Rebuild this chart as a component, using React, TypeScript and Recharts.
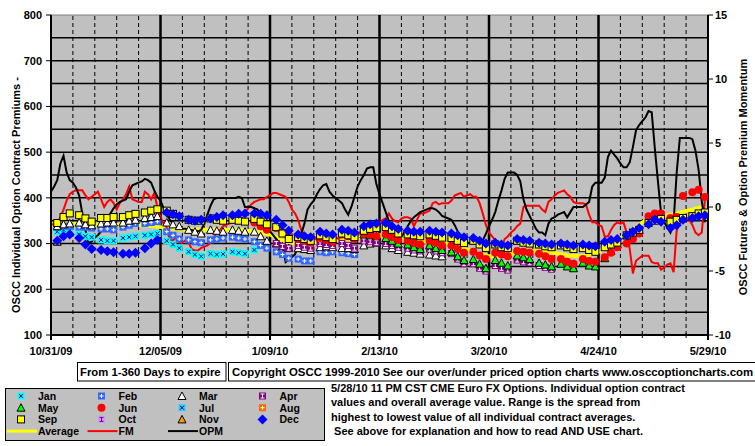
import React from "react";
import { ComposedChart, Scatter, Line, XAxis, YAxis, ReferenceLine, ReferenceArea } from "recharts";

const FONT = "'Liberation Sans', Arial, Helvetica, sans-serif";

// x axis = days since 10/31/09; labels every 35 days, dashed line every week
const dateLabels = ["10/31/09", "12/05/09", "1/09/10", "2/13/10", "3/20/10", "4/24/10", "5/29/10"];
const weekTicks = Array.from({ length: 31 }, (_, i) => i * 7);
const premiumTicks = [100, 200, 300, 400, 500, 600, 700, 800];
const premiumGrid = [150, 200, 250, 300, 350, 400, 450, 500, 550, 600, 650, 700, 750];
const momentumTicks = [-10, -5, 0, 5, 10, 15];

// contract premiums, one row per week (Mon / Wed / Fri readings)
const nov09Weeks = [[304]];
const dec09Weeks = [[306, 316, 320], [312, 298, 288], [286, 283, 281], [278, 278, 280], [290, 300, 308]];
const janWeeks = [
  [326, 330, 330], [320, 316, 314], [308, 306, 306], [312, 314, 316], [318, 320, 322],
  [306, 298, 290], [282, 276, 272], [278, 276, 277], [282, 280, 278], [286],
];
const febWeeks = [
  [336, 338, 338], [336, 336, 334], [332, 332, 330], [336, 340, 344], [344, 346, 348],
  [326, 318, 310], [308, 304, 302], [308, 310, 312], [314, 312, 310], [304, 296, 290],
  [282, 276, 268], [266, 262, 262], [282, 280, 282], [280, 278, 276],
];
const marWeeks = [
  [338, 342, 344], [346, 342, 340], [344, 346, 346], [346, 350, 352], [356, 358, 360],
  [346, 342, 338], [330, 326, 322], [330, 328, 326], [330, 328, 326], [326, 316, 306],
  [300, 294, 290], [290, 288, 286], [292, 294, 292], [290, 290, 288], [296, 300, 302],
  [296, 290, 286], [282, 280, 278], [276, 274, 272],
];
const aprWeeks = [
  [300, 294, 290], [296, 292, 290], [300, 298, 296], [300, 296, 290], [306, 304, 302],
  [300, 296, 292], [290, 286, 284], [288, 284, 280], [278, 266, 256], [256, 246, 240],
  [252, 246, 242], [264, 260, 258], [252, 248, 244],
];
const mayWeeks = [
  [320, 318, 316], [312, 306, 300], [298, 292, 288], [296, 290, 286], [282, 272, 264],
  [266, 256, 246], [264, 258, 252], [274, 270, 266], [258, 254, 250], [256, 250, 246],
  [258, 252, 250], [268, 284, 298], [318, 326, 330],
];
const junWeeks = [
  [346, 338, 330], [334, 324, 316], [310, 306, 302], [312, 308, 304], [320, 316, 310],
  [322, 320, 316], [320, 314, 308], [306, 302, 298], [306, 302, 296], [296, 288, 280],
  [282, 274, 266], [280, 276, 272], [284, 282, 280], [278, 272, 266], [266, 260, 256],
  [266, 262, 260], [270, 280, 292], [300, 310, 322], [360, 366, 366], [356, 358, 404],
  [412, 418, 402],
];
const sepWeeks = [
  [345, 358, 366], [362, 355, 348], [356, 356, 358], [358, 362, 365], [368, 372, 375],
  [372, 365, 358], [352, 350, 350], [355, 352, 350], [352, 350, 348], [354, 348, 342],
  [336, 322, 310], [314, 310, 306], [318, 314, 310], [322, 318, 314], [328, 332, 334],
  [336, 330, 322], [320, 318, 316], [320, 317, 313], [312, 306, 301], [306, 298, 290],
  [298, 292, 290], [306, 302, 300], [298, 294, 292], [296, 292, 288], [290, 286, 282],
  [292, 298, 302], [318, 324, 330], [345, 350, 354], [348, 352, 356], [360, 366, 368],
];
const dec10Weeks = [
  [368, 364, 360], [352, 350, 352], [355, 358, 362], [362, 365, 366], [366, 365, 362],
  [352, 340, 328], [320, 316, 314], [326, 322, 320], [330, 328, 324], [338, 342, 344],
  [345, 338, 332], [328, 326, 326], [328, 326, 324], [322, 318, 314], [312, 306, 300],
  [302, 298, 296], [310, 308, 306], [302, 300, 298], [300, 298, 296], [298, 296, 294],
  [304, 308, 310], [318, 326, 334], [342, 352, 348], [334, 340, 352], [356, 360, 362],
];

const avgDays = [0, 5, 10, 15, 20, 25, 30, 35, 40, 45, 50, 55, 60, 65, 70, 75, 80, 85, 90, 95, 100, 105,
  110, 115, 120, 125, 130, 135, 140, 145, 150, 155, 160, 165, 170, 175, 180, 185, 190, 195, 200, 205, 209];
const avgValues = [342, 344, 342, 340, 340, 341, 340, 336, 332, 330, 330, 330, 330, 326, 320, 304, 297, 304,
  307, 309, 312, 318, 314, 306, 304, 302, 296, 282, 272, 272, 284, 284, 281, 274, 272, 282, 302, 326, 350,
  358, 366, 374, 382];

// daily futures momentum / option premium momentum (right axis)
const fmValues = [
  -1.3, -1.4, -1.4, -0.8, -0.2, 0.5, 1.0, 1.2, 1.3, 1.3,
  1.3, 0.9, 0.6, 0.8, 1.0, 1.2, 0.6, 0.0, 0.4, 0.6,
  0.3, -0.2, 0.3, 0.6, 1.0, 1.6, 0.6, 0.5, 0.4, 0.4,
  1.2, 1.0, 0.6, 1.1, 0.0, -0.8, -1.3, -1.6, -2.6, -2.6,
  -2.4, -2.8, -2.8, -2.6, -2.8, -3.3, -3.4, -3.4, -3.2, -3.1,
  -3.0, -2.8, -2.4, -2.0, -1.8, -1.5, -1.4, -1.3, -1.2, -1.0,
  -0.8, -0.6, -0.4, -0.1, 0.2, 0.4, 0.5, 0.6, 0.6, 0.8,
  0.9, 1.1, 1.1, 1.0, 0.9, 0.8, 0.4, -0.2, -0.5, -1.0,
  -1.8, -2.2, -2.2, -2.2, -2.3, -2.6, -2.9, -2.5, -2.4, -2.6,
  -2.8, -2.4, -2.5, -2.2, -2.0, -2.3, -2.6, -2.4, -2.2, -1.9,
  -2.1, -1.8, -2.0, -1.8, -1.6, -1.3, -1.0, -0.9, -0.5, -0.9,
  -1.1, -1.2, -0.9, -0.8, -0.8, -0.9, -1.5, -1.0, -0.5, -0.5,
  -0.4, -0.3, 0.3, 0.4, 0.2, 0.3, 0.3, 0.3, 0.5, 0.9,
  1.0, 1.1, 0.8, 0.9, 1.0, 0.8, 0.8, 0.3, -0.5, -1.4,
  -2.0, -2.3, -2.6, -2.8, -3.2, -2.5, -2.3, -2.0, -1.8, -1.5,
  -1.3, 0.0, 0.1, 0.1, 0.1, 0.1, 0.1, -0.2, -0.4, 0.4,
  0.6, 0.9, 1.1, 1.2, 1.3, 1.0, 0.8, 0.4, 0.3, 0.3,
  0.3, 0.2, -0.6, -1.2, -1.2, -1.4, -1.5, -2.3, -2.3, -1.8,
  -1.4, -1.2, -1.3, -1.2, -2.0, -3.3, -5.2, -4.2, -4.0, -3.8,
  -3.8, -3.8, -4.3, -4.4, -4.4, -4.9, -4.7, -4.5, -4.4, -5.1,
  -1.8, -1.2, -0.9, -0.8, -1.0, -1.4, -2.0, -2.2, -2.0, 0.5,
];
const opmValues = [
  1.2, 1.6, 2.1, 3.4, 4.0, 2.7, 2.1, 1.9, 1.5, 0.9,
  -0.5, -1.8, -2.8, -2.7, -2.4, -2.2, -1.9, -1.5, -1.0, -0.5,
  -0.1, 0.2, 0.4, 0.5, 0.6, 1.2, 1.7, 1.8, 1.9, 2.0,
  2.2, 2.1, 1.9, 1.3, 0.8, 0.5, -0.1, -0.6, -1.0, -1.3,
  -1.6, -1.7, -1.7, -1.7, -1.8, -1.8, -1.9, -1.9, -1.8, -1.3,
  -0.6, 0.1, 0.6, 0.7, 0.7, 0.7, 0.7, 0.7, 0.7, 0.7,
  0.8, 0.7, 0.0, 0.0, 0.0, -0.1, -0.2, -0.7, -1.1, -1.5,
  -1.9, -2.2, -2.5, -2.8, -3.0, -4.3, -4.1, -3.9, -3.7, -3.0,
  -2.1, -1.3, -0.2, 0.2, 0.5, 1.0, 1.4, 1.7, 1.8, 1.2,
  0.9, 0.7, 0.5, 0.3, -0.2, -0.6, 0.0, 0.8, 1.6, 2.1,
  2.5, 3.0, 3.1, 3.1, 1.8, 1.0, 0.3, -0.4, -1.1, -1.6,
  -2.0, -2.4, -2.3, -2.0, -1.5, -1.1, -0.8, -0.6, -0.4, -0.3,
  -0.2, -0.1, -0.1, -0.2, -0.4, -0.7, -0.8, -0.9, -1.0, -1.4,
  -1.9, -2.5, -2.7, -2.8, -2.8, -2.8, -2.8, -2.8, -2.6, -2.1,
  -1.5, -1.0, -0.4, 0.5, 1.3, 2.2, 2.7, 2.7, 2.7, 2.5,
  2.0, 0.6, -0.2, -0.7, -1.2, -1.7, -2.0, -2.0, -2.2, -1.3,
  -0.9, -0.8, -0.6, -0.5, -0.4, -0.8, -0.4, 0.0, 0.0, 0.0,
  0.0, 0.2, 0.4, 1.6, 1.9, 1.9, 1.9, 2.3, 3.9, 4.4,
  4.1, 3.8, 3.4, 3.1, 3.1, 3.5, 4.7, 6.0, 6.4, 6.7,
  7.0, 7.5, 7.4, 4.6, 2.0, -0.5, -1.2, -1.6, -2.0, -1.2,
  2.7, 5.4, 5.4, 5.4, 5.4, 5.3, 4.4, 2.9, 0.5, -1.2,
];

// Mon/Wed/Fri of each week -> day offset
const cluster = (firstWeek: number, weeks: number[][]) =>
  weeks.flatMap((vals, i) => vals.map((v, j) => ({ d: (firstWeek + i) * 7 + 2 + j * 2, v })));
const daily = (vals: number[]) => vals.map((v, d) => ({ d, v }));
const avgData = avgDays.map((d, i) => ({ d, v: avgValues[i] }));

type MP = { cx?: number; cy?: number };

const squareMark = (fill: string, glyph: string, ink: string, stroke = "none") => (p: MP) => {
  const cx = p.cx ?? 0;
  const cy = p.cy ?? 0;
  return (
    <g>
      <rect x={cx - 3.5} y={cy - 3.5} width={7} height={7} fill={fill} stroke={stroke} />
      {glyph === "+" && <path d={`M${cx - 2},${cy}H${cx + 2}M${cx},${cy - 2}V${cy + 2}`} stroke={ink} />}
      {glyph === "x" && <path d={`M${cx - 2},${cy - 2}L${cx + 2},${cy + 2}M${cx + 2},${cy - 2}L${cx - 2},${cy + 2}`} stroke={ink} />}
      {glyph === "i" && (
        <path d={`M${cx - 2},${cy - 2}H${cx + 2}M${cx - 2},${cy + 2}H${cx + 2}M${cx},${cy - 2}V${cy + 2}`} stroke={ink} />
      )}
    </g>
  );
};
const triangleMark = (fill: string) => (p: MP) => {
  const cx = p.cx ?? 0;
  const cy = p.cy ?? 0;
  return <polygon points={`${cx},${cy - 4} ${cx + 4},${cy + 3.5} ${cx - 4},${cy + 3.5}`} fill={fill} stroke="#000" />;
};
const circleMark = (fill: string) => (p: MP) => <circle cx={p.cx ?? 0} cy={p.cy ?? 0} r={4} fill={fill} />;
const diamondMark = (fill: string) => (p: MP) => {
  const cx = p.cx ?? 0;
  const cy = p.cy ?? 0;
  return <polygon points={`${cx},${cy - 5} ${cx + 5},${cy} ${cx},${cy + 5} ${cx - 5},${cy}`} fill={fill} />;
};

const janMark = squareMark("#00ffff", "x", "#000080");
const febMark = squareMark("#3366ff", "+", "#ffffff");
const marMark = triangleMark("#ffffff");
const aprMark = squareMark("#800080", "i", "#ffffff");
const mayMark = triangleMark("#00ff00");
const junMark = circleMark("#ff0000");
const julMark = squareMark("#33ccff", "x", "#000080");
const augMark = squareMark("#ff6600", "+", "#ffffff");
const sepMark = squareMark("#ffff00", "", "#000", "#000");
const octMark = squareMark("#cc99ff", "i", "#800080");
const novMark = triangleMark("#ff9900");
const decMark = diamondMark("#0000ff");

const legendMarks = [
  ["Jan", janMark], ["Feb", febMark], ["Mar", marMark], ["Apr", aprMark],
  ["May", mayMark], ["Jun", junMark], ["Jul", julMark], ["Aug", augMark],
  ["Sep", sepMark], ["Oct", octMark], ["Nov", novMark], ["Dec", decMark],
] as const;
const legendLines = [
  ["Average", "#ffff00", 3],
  ["FM", "#ff0000", 2],
  ["OPM", "#000000", 2],
] as const;

const notes = [
  "5/28/10 11 PM CST CME Euro FX Options. Individual option contract",
  "values and overall average value. Range is the spread from",
  "highest to lowest value of all individual contract averages.",
  " See above for explanation and how to read AND USE chart.",
];

const DateTick = (props: any) => {
  const { x, y, payload } = props;
  const d = payload.value as number;
  const major = d % 35 === 0;
  return (
    <g>
      <line x1={x} x2={x} y1={y - 2} y2={y + (major ? 5 : 3)} stroke="#000" strokeWidth={major ? 2 : 1} />
      {major && (
        <text x={x} y={y + 20} textAnchor="middle" fontFamily={FONT} fontWeight="bold" fontSize={11} fill="#000">
          {dateLabels[d / 35]}
        </text>
      )}
    </g>
  );
};

const axisTick = { fill: "#000", fontSize: 11, fontWeight: "bold", fontFamily: FONT };

export default function App() {
  const txt = { fontFamily: FONT, fontWeight: "bold" as const, fontSize: 11, fill: "#000" };
  const rowGap = 11.7;
  return (
    <div style={{ position: "absolute", left: 0, top: 0, width: 755, height: 446, background: "#fff" }}>
      <ComposedChart width={755} height={446} margin={{ top: 15, right: 7, bottom: 91, left: 6 }}>
        <XAxis
          dataKey="d"
          type="number"
          domain={[0, 210]}
          ticks={weekTicks}
          interval={0}
          height={20}
          tickSize={0}
          tickMargin={0}
          tickLine={false}
          tick={<DateTick />}
          axisLine={{ stroke: "#000", strokeWidth: 2 }}
          allowDataOverflow
        />
        <YAxis
          yAxisId="left"
          domain={[100, 800]}
          ticks={premiumTicks}
          width={45}
          tickSize={5}
          tickMargin={4}
          tick={axisTick}
          tickLine={{ stroke: "#000" }}
          axisLine={{ stroke: "#000", strokeWidth: 2 }}
          allowDataOverflow
        />
        <YAxis
          yAxisId="right"
          orientation="right"
          domain={[-10, 15]}
          ticks={momentumTicks}
          width={40}
          tickSize={5}
          tickMargin={2}
          tick={axisTick}
          tickLine={{ stroke: "#000" }}
          axisLine={{ stroke: "#000", strokeWidth: 2 }}
          allowDataOverflow
        />
        <ReferenceArea yAxisId="left" x1={0} x2={210} y1={100} y2={800} fill="#c0c0c0" fillOpacity={1} stroke="none" />
        <ReferenceLine yAxisId="left" y={800} stroke="#808080" strokeWidth={1} />
        {premiumGrid.map((v) => (
          <ReferenceLine key={"h" + v} yAxisId="left" y={v} stroke="#000" strokeWidth={1.5} />
        ))}
        {weekTicks.slice(1, -1).map((d) => (
          <ReferenceLine
            key={"v" + d}
            yAxisId="left"
            x={d}
            stroke="#000"
            strokeWidth={d % 35 === 0 ? 2.5 : 1}
            strokeDasharray={d % 35 === 0 ? undefined : "4 3"}
          />
        ))}

        <Scatter data={cluster(0, janWeeks)} dataKey="v" yAxisId="left" shape={janMark} isAnimationActive={false} />
        <Scatter data={cluster(0, febWeeks)} dataKey="v" yAxisId="left" shape={febMark} isAnimationActive={false} />
        <Scatter data={cluster(0, marWeeks)} dataKey="v" yAxisId="left" shape={marMark} isAnimationActive={false} />
        <Scatter data={cluster(10, aprWeeks)} dataKey="v" yAxisId="left" shape={aprMark} isAnimationActive={false} />
        <Scatter data={cluster(14, mayWeeks)} dataKey="v" yAxisId="left" shape={mayMark} isAnimationActive={false} />
        <Scatter data={cluster(9, junWeeks)} dataKey="v" yAxisId="left" shape={junMark} isAnimationActive={false} />
        <Scatter data={cluster(0, sepWeeks)} dataKey="v" yAxisId="left" shape={sepMark} isAnimationActive={false} />
        <Scatter data={cluster(0, nov09Weeks)} dataKey="v" yAxisId="left" shape={novMark} isAnimationActive={false} />
        <Scatter data={cluster(0, dec09Weeks)} dataKey="v" yAxisId="left" shape={decMark} isAnimationActive={false} />
        <Scatter data={cluster(5, dec10Weeks)} dataKey="v" yAxisId="left" shape={decMark} isAnimationActive={false} />

        <Line data={avgData} dataKey="v" yAxisId="left" type="linear" stroke="#ffff00" strokeWidth={4} dot={false} isAnimationActive={false} />
        <Line data={daily(fmValues)} dataKey="v" yAxisId="right" type="linear" stroke="#ff0000" strokeWidth={2} dot={false} isAnimationActive={false} />
        <Line data={daily(opmValues)} dataKey="v" yAxisId="right" type="linear" stroke="#000000" strokeWidth={2} dot={false} isAnimationActive={false} />
      </ComposedChart>

      <svg width={755} height={446} style={{ position: "absolute", left: 0, top: 0, pointerEvents: "none" }}>
        <text {...txt} transform="translate(20,195) rotate(-90)" textAnchor="middle">
          OSCC Individual Option Contract Premiums -
        </text>
        <text {...txt} transform="translate(747,177) rotate(-90)" textAnchor="middle">
          OSCC Futures &amp; Option Premium Momentum
        </text>

        <rect x={77.5} y={362.5} width={148.5} height={18.5} fill="#fff" stroke="#000" />
        <text {...txt} fontSize={11.3} x={80} y={376}>From 1-360 Days to expire</text>
        <rect x={228.5} y={362.5} width={540} height={18.5} fill="#fff" stroke="#000" />
        <text {...txt} fontSize={11.4} x={232} y={376}>
          Copyright OSCC 1999-2010 See our over/under priced option charts www.osccoptioncharts.com
        </text>

        <rect x={5.5} y={388.5} width={319} height={52} fill="#c0c0c0" stroke="#000" />
        {legendMarks.map(([name, Mark], i) => {
          const col = i % 4;
          const row = Math.floor(i / 4);
          const mx = 21 + col * 80.5;
          const my = 396 + row * rowGap;
          return (
            <g key={name}>
              <Mark cx={mx} cy={my} />
              <text {...txt} fontSize={10.5} x={mx + 17} y={my + 4}>
                {name}
              </text>
            </g>
          );
        })}
        {legendLines.map(([name, color, w], i) => {
          const lx = 7 + i * 80.5;
          const ly = 396 + 3 * rowGap;
          return (
            <g key={name}>
              <line x1={lx} x2={lx + 30} y1={ly} y2={ly} stroke={color} strokeWidth={w} />
              <text {...txt} fontSize={10.5} x={lx + 31} y={ly + 4}>
                {name}
              </text>
            </g>
          );
        })}

        {notes.map((line, i) => (
          <text key={i} {...txt} x={331} y={392 + i * 14.4} style={{ whiteSpace: "pre" }}>
            {line}
          </text>
        ))}
      </svg>
    </div>
  );
}
